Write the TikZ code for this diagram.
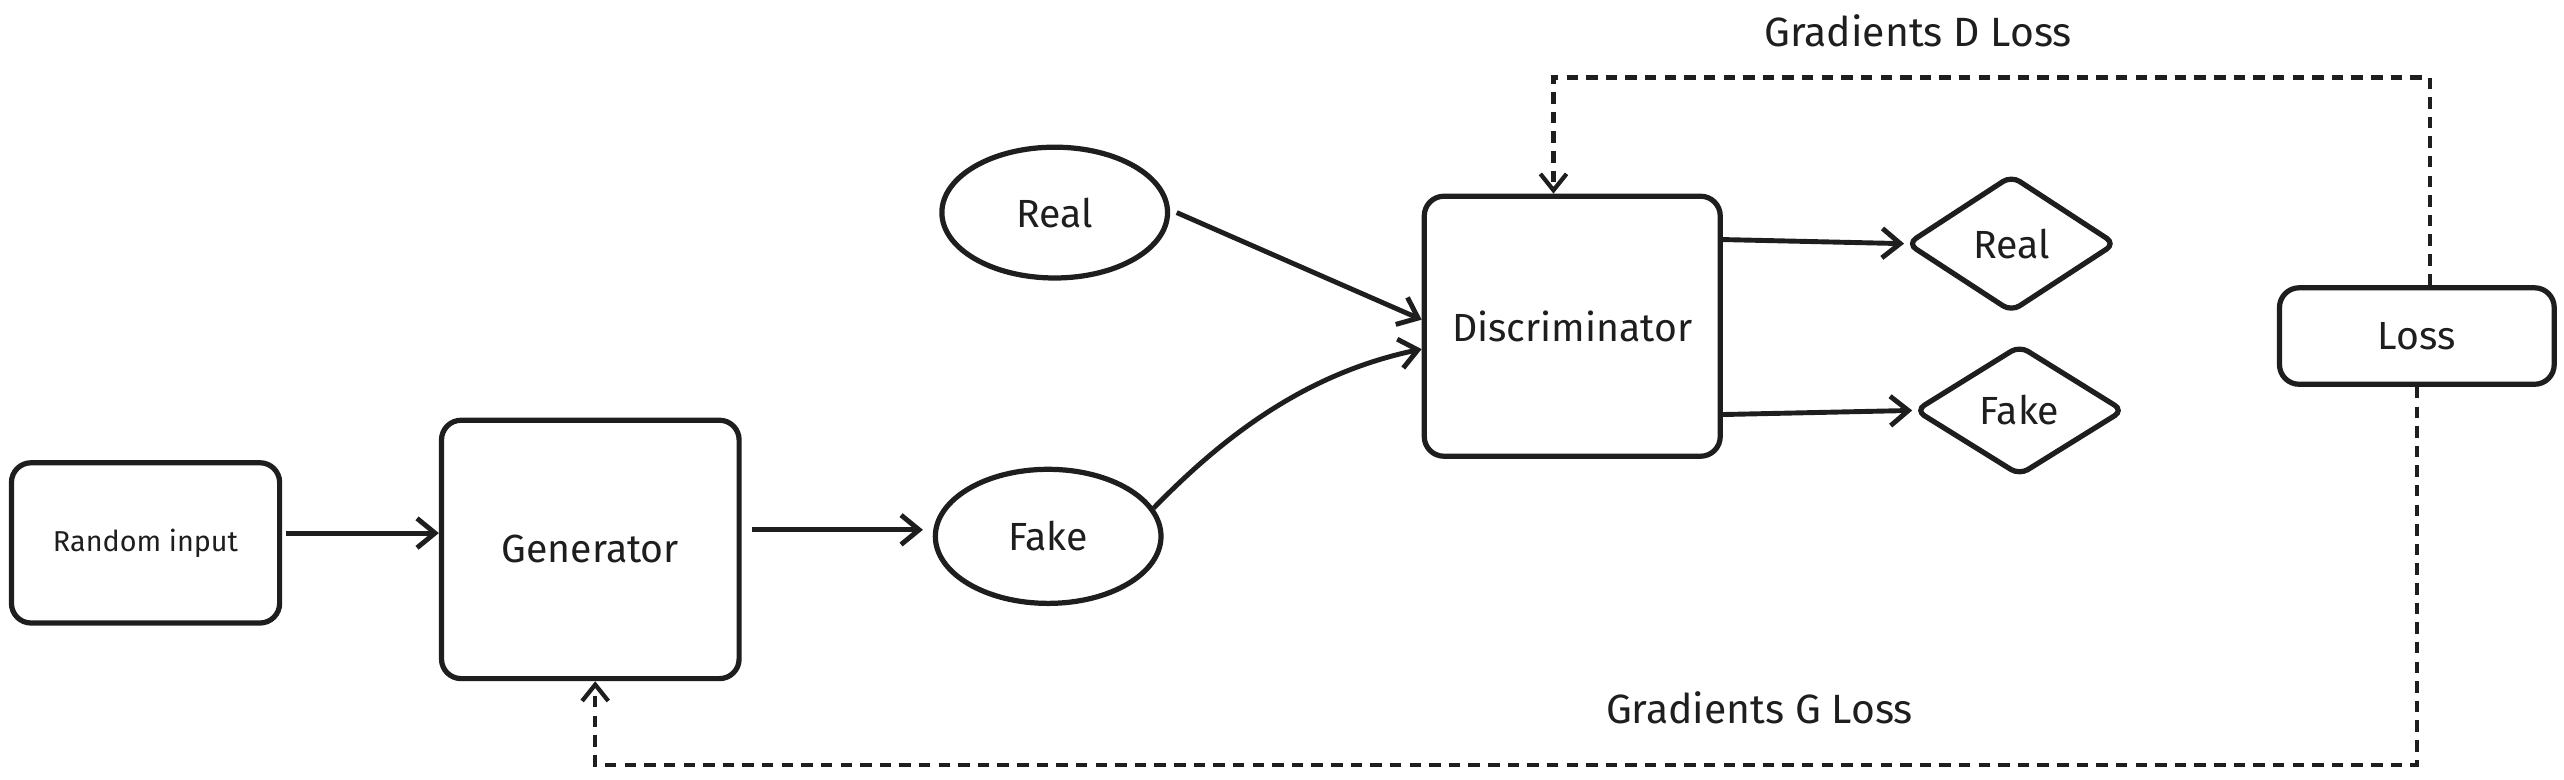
\documentclass[tikz,border=0pt]{standalone}
\usepackage{fontspec}
\setmainfont{Fira Sans}
\usetikzlibrary{shapes.geometric,arrows.meta}
\definecolor{ink}{HTML}{1E1E1E}
\tikzset{
  box/.style={draw=ink, line width=1.6pt, rounded corners=6pt, inner sep=0pt, align=center, text=ink, font=\fontsize{12}{14}\selectfont},
  oval/.style={draw=ink, line width=1.6pt, ellipse, inner sep=0pt, text=ink, font=\fontsize{12}{14}\selectfont},
  dia/.style={draw=ink, line width=1.6pt, diamond, rounded corners=3pt, inner sep=0pt, text=ink, font=\fontsize{12}{14}\selectfont},
  lab/.style={text=ink, font=\fontsize{12.5}{14}\selectfont, inner sep=0pt},
  arr/.style={draw=ink, line width=1.5pt, -{Straight Barb[length=5.5pt,width=9pt]}},
  dsh/.style={draw=ink, line width=1.3pt, dash pattern=on 3.5pt off 2.5pt, -{Straight Barb[length=5pt,width=8pt]}}
}
\begin{document}
\begin{tikzpicture}[x=0.5pt,y=-0.5pt]
\useasboundingbox (0,0) rectangle (1568,476.4);
\node[box, minimum width=82pt, minimum height=49pt, font=\fontsize{8.8}{10}\selectfont] (rand) at (89,332) {Random input};
\node[box, minimum width=91pt, minimum height=79pt] (gen) at (361,336) {Generator};
\node[oval, minimum width=69pt, minimum height=41pt] (fake) at (641,328) {Fake};
\node[oval, minimum width=69pt, minimum height=40pt] (real) at (645,130) {Real};
\node[box, minimum width=90.5pt, minimum height=79.5pt] (disc) at (961.5,199.5) {Discriminator};
\node[dia, minimum width=64pt, minimum height=42pt] (rd) at (1230,149) {Real};
\node[dia, minimum width=64pt, minimum height=40pt] (fd) at (1235,251) {Fake};
\node[box, minimum width=84pt, minimum height=29.5pt] (loss) at (1478,205.5) {Loss};
\node[lab] (gd) at (1173,19) {Gradients D Loss};
\node[lab] (gg) at (1076,433) {Gradients G Loss};

\draw[arr] ([xshift=1pt,yshift=3pt]rand.east) -- ([yshift=3pt]rand.east -| gen.west);
\draw[arr] ([xshift=3pt,yshift=6pt]gen.east) -- ([xshift=-3pt,yshift=2pt]fake.west);
\draw[arr] ([xshift=2pt]real.east) -- ([yshift=2pt]disc.west);
\draw[arr] (fake.15) .. controls (750,265) and (800,228) .. ([yshift=-7pt]disc.west);
\draw[arr] ([yshift=26.5pt]disc.east) -- (rd.west);
\draw[arr] ([yshift=-27pt]disc.east) -- (fd.west);
\draw[dsh] ([xshift=4pt]loss.north) -- ++(0,-127) -| ([xshift=-5.75pt]disc.north);
\draw[dsh] (loss.south) -- ++(0,231) -| ([xshift=1.5pt]gen.south);
\end{tikzpicture}
\end{document}
